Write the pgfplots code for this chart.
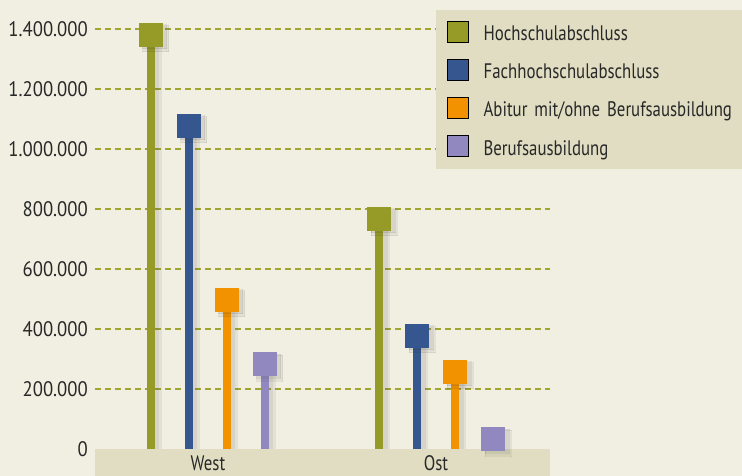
\documentclass[border=0pt]{standalone}
\usepackage{fontspec}
\setmainfont{PT Sans}[FakeStretch=0.8]
\newfontfamily\numfont{PT Sans}[FakeStretch=0.89]
\usepackage{pgfplots}
\usepackage{pgfplotstable}
\pgfplotsset{compat=1.18}
\definecolor{bg}{RGB}{241,239,226}
\definecolor{band}{RGB}{224,221,194}
\definecolor{cA}{RGB}{150,155,40}
\definecolor{cB}{RGB}{54,86,143}
\definecolor{cC}{RGB}{243,146,0}
\definecolor{cD}{RGB}{146,136,192}
\definecolor{txt}{RGB}{40,40,40}
\definecolor{gridc}{RGB}{160,165,50}
\pgfplotstableread{
x A B C D
0 1380000 1078000 498000 283000
1 768000 377000 257000 33000
}\data
\pgfplotsset{
  stem/.style={ycomb, line width=8pt, mark=square*, mark size=11.5pt, mark options={line width=0pt}, forget plot},
  shadow/.style={ycomb, black!80!olive, opacity=0.07, line width=12pt, mark=square*, mark size=13pt, mark options={line width=0pt}, forget plot, yshift=-4pt},
  shadowb/.style={ycomb, black!80!olive, opacity=0.07, line width=9pt, mark=square*, mark size=12pt, mark options={line width=0pt}, forget plot, yshift=-2pt},
}
\begin{document}
\fontsize{21pt}{25pt}\selectfont
\begin{tikzpicture}[x=1pt,y=1pt]
\fill[bg] (0,0) rectangle (742,476);
\useasboundingbox (0,0) rectangle (742,476);
\fill[band] (95,0) rectangle (550,27);
\begin{axis}[
  at={(95pt,27pt)}, anchor=south west,
  scale only axis, width=455pt, height=449pt,
  xmin=-0.4956, xmax=1.5, ymin=0, ymax=1496667,
  axis line style={draw=none},
  major tick length=0pt,
  xtick={0,1}, xticklabels={West,Ost},
  xticklabel style={anchor=base, inner sep=0pt, yshift=-22pt, font=\fontsize{21pt}{25pt}\selectfont},
  ytick={200000,400000,600000,800000,1000000,1200000,1400000},
  yticklabels={200.000,400.000,600.000,800.000,1.000.000,1.200.000,1.400.000},
  extra y ticks={0}, extra y tick labels={0}, extra y tick style={grid=none},
  ymajorgrids, grid style={gridc, dash pattern=on 6pt off 4pt, line width=1.2pt},
  tick label style={text=txt},
  yticklabel style={anchor=east, inner sep=0pt, xshift=-7pt, font=\numfont\fontsize{21pt}{25pt}\selectfont},
  legend style={at={(0.7495,0.978)}, anchor=north west, fill=band, draw=none,
    inner xsep=11pt, inner ysep=10.5pt, row sep=14.75pt, column sep=15pt,
    font=\fontsize{21pt}{25pt}\selectfont, text=txt,
    nodes={inner sep=0pt, text height=18pt, text depth=3.5pt, text width=262pt, align=left}},
  legend cell align=left,
  legend image code/.code={\fill[#1] (0pt,-8.5pt) rectangle (21pt,12.5pt);},
]
\addlegendimage{fill=cA}\addlegendentry{Hochschulabschluss}
\addlegendimage{fill=cB}\addlegendentry{Fachhochschulabschluss}
\addlegendimage{fill=cC}\addlegendentry{Abitur mit/ohne Berufsausbildung}
\addlegendimage{fill=cD}\addlegendentry{Berufsausbildung}
\addplot[shadow, xshift=-52pt] table[x=x, y=A] {\data};
\addplot[shadow, xshift=-14pt] table[x=x, y=B] {\data};
\addplot[shadow, xshift=24pt] table[x=x, y=C] {\data};
\addplot[shadow, xshift=62pt] table[x=x, y=D] {\data};
\addplot[shadowb, xshift=-53pt] table[x=x, y=A] {\data};
\addplot[shadowb, xshift=-15pt] table[x=x, y=B] {\data};
\addplot[shadowb, xshift=23pt] table[x=x, y=C] {\data};
\addplot[shadowb, xshift=61pt] table[x=x, y=D] {\data};
\addplot[stem, cA, xshift=-57pt] table[x=x, y=A] {\data};
\addplot[stem, cB, xshift=-19pt] table[x=x, y=B] {\data};
\addplot[stem, cC, xshift=19pt] table[x=x, y=C] {\data};
\addplot[stem, cD, xshift=57pt] table[x=x, y=D] {\data};
\end{axis}
\end{tikzpicture}
\end{document}
